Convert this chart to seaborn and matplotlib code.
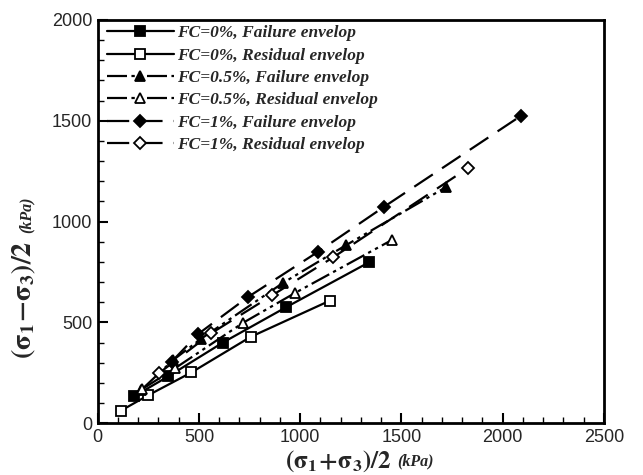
import matplotlib
matplotlib.use("Agg")
import matplotlib.pyplot as plt
import seaborn as sns
from matplotlib.ticker import MultipleLocator

sns.set_theme(style="white")
plt.rcParams["mathtext.fontset"] = "stix"

# p = (s1+s3)/2, q = (s1-s3)/2 in kPa
fc0_fail_p = [180, 348, 618, 932, 1342]
fc0_fail_q = [134, 232, 400, 576, 799]
fc0_res_p = [114, 250, 463, 755, 1145]
fc0_res_q = [62, 139, 252, 428, 607]
fc05_fail_p = [215, 372, 512, 917, 1225, 1719]
fc05_fail_q = [165, 313, 420, 697, 882, 1170]
fc05_res_p = [218, 381, 718, 973, 1452]
fc05_res_q = [168, 272, 498, 645, 908]
fc1_fail_p = [365, 497, 741, 1088, 1414, 2090]
fc1_fail_q = [305, 443, 625, 850, 1073, 1524]
fc1_res_p = [305, 562, 863, 1162, 1827]
fc1_res_q = [250, 447, 635, 822, 1264]

labels = ["FC=0%, Failure envelop", "FC=0%, Residual envelop",
          "FC=0.5%, Failure envelop", "FC=0.5%, Residual envelop",
          "FC=1%, Failure envelop", "FC=1%, Residual envelop"]

dashdotdot = (0, (9, 2, 1.5, 2, 1.5, 2))
longdash = (0, (10, 5))
series = [
    (fc0_fail_p, fc0_fail_q, "s", "black", "-"),
    (fc0_res_p, fc0_res_q, "s", "white", "-"),
    (fc05_fail_p, fc05_fail_q, "^", "black", dashdotdot),
    (fc05_res_p, fc05_res_q, "^", "white", dashdotdot),
    (fc1_fail_p, fc1_fail_q, "D", "black", longdash),
    (fc1_res_p, fc1_res_q, "D", "white", longdash),
]

fig = plt.figure(figsize=(6.43, 4.75), dpi=100)
ax = fig.add_axes([0.152, 0.109, 0.787, 0.849])

for (p, q, m, fcol, ls), lab in zip(series, labels):
    sns.lineplot(x=p, y=q, ax=ax, sort=False, estimator=None, color="black",
                 linestyle=ls, linewidth=1.6, marker=m, markersize=7 if m != "D" else 6,
                 markerfacecolor=fcol, markeredgecolor="black", markeredgewidth=1.3,
                 label=lab)

ax.set_xlim(0, 2500)
ax.set_ylim(0, 2000)
ax.xaxis.set_major_locator(MultipleLocator(500))
ax.xaxis.set_minor_locator(MultipleLocator(100))
ax.yaxis.set_major_locator(MultipleLocator(500))
ax.yaxis.set_minor_locator(MultipleLocator(100))
ax.tick_params(which="both", direction="in", bottom=True, left=True, top=False, right=False,
               labelsize=13, pad=4, color="black")
ax.tick_params(which="major", length=7, width=1.5)
ax.tick_params(which="minor", length=4, width=1)
for lbl in ax.get_xticklabels() + ax.get_yticklabels():
    lbl.set_fontfamily("Liberation Sans")
for s in ax.spines.values():
    s.set_linewidth(2)
    s.set_color("black")

ax.set_xlabel("")
ax.set_ylabel("")
fig.text(0.443, 0.016, r"$\mathbf{(\sigma_1\!+\!\sigma_3)/2}$", fontsize=18, ha="left", va="baseline")
fig.text(0.618, 0.02, "(kPa)", fontsize=11.5, family="Liberation Serif", weight="bold",
         style="italic", ha="left", va="baseline")
fig.text(0.037, 0.368, r"$\mathbf{(\sigma_1\!-\!\sigma_3)/2}$", fontsize=20, rotation=90,
         ha="center", va="center")
fig.text(0.041, 0.509, "(kPa)", fontsize=11.5, family="Liberation Serif", weight="bold",
         style="italic", rotation=90, ha="center", va="bottom")

leg = ax.legend(loc="upper left", bbox_to_anchor=(0.004, 1.004), frameon=False,
                handlelength=3.85, handletextpad=0.2, labelspacing=0.355, borderaxespad=0.0,
                prop={"family": "Liberation Serif", "weight": "bold", "style": "italic", "size": 12.5})

fig.savefig("out.png", dpi=100)
